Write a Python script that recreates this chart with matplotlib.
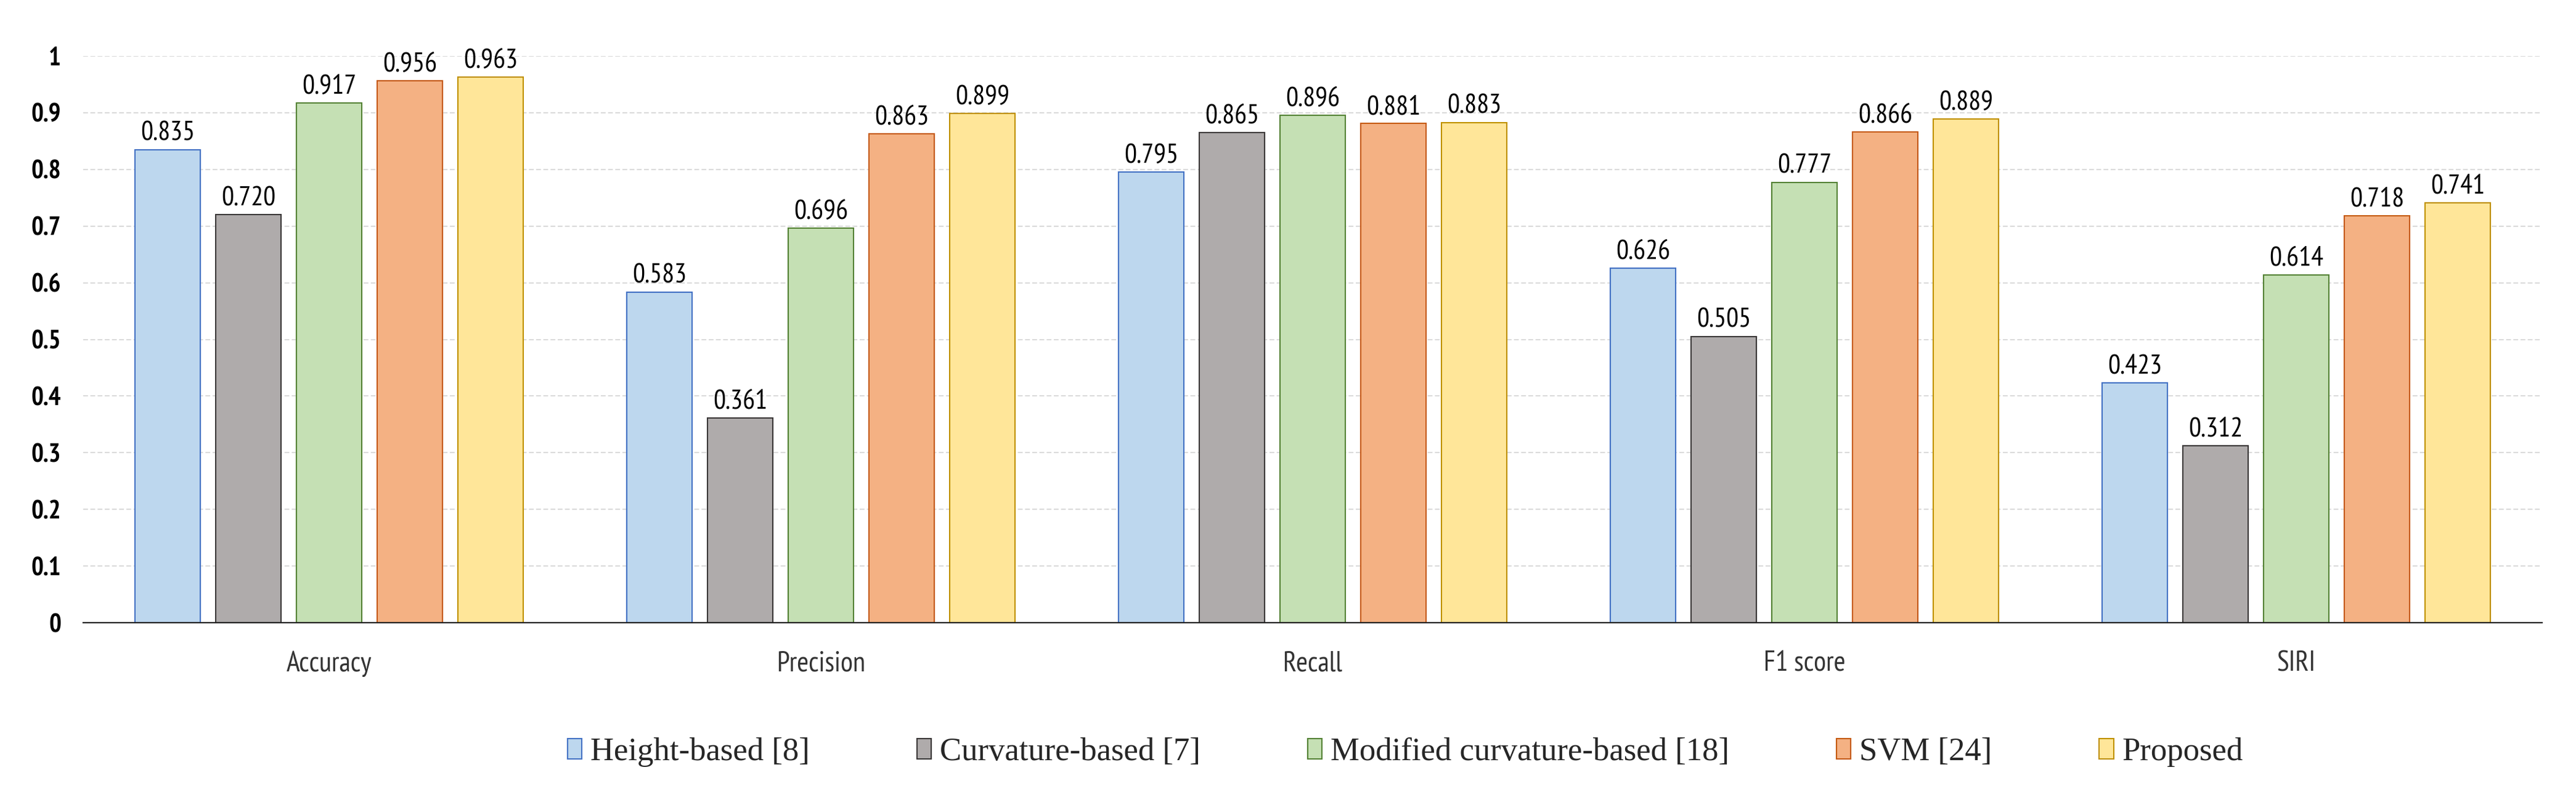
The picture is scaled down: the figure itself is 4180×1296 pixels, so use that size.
import numpy as np
import matplotlib
matplotlib.use("Agg")
import matplotlib.pyplot as plt

categories = ["Accuracy", "Precision", "Recall", "F1 score", "SIRI"]
method_names = ["Height-based [8]", "Curvature-based [7]", "Modified curvature-based [18]",
                "SVM [24]", "Proposed"]

height_based = [0.835, 0.583, 0.795, 0.626, 0.423]
curvature_based = [0.720, 0.361, 0.865, 0.505, 0.312]
modified_curv = [0.917, 0.696, 0.896, 0.777, 0.614]
svm = [0.956, 0.863, 0.881, 0.866, 0.718]
proposed = [0.963, 0.899, 0.883, 0.889, 0.741]

y_ticks = [0, 0.1, 0.2, 0.3, 0.4, 0.5, 0.6, 0.7, 0.8, 0.9, 1]
y_tick_labels = ["0", "0.1", "0.2", "0.3", "0.4", "0.5", "0.6", "0.7", "0.8", "0.9", "1"]

series = [height_based, curvature_based, modified_curv, svm, proposed]
fill_colors = ["#BDD7EE", "#AFABAB", "#C5E0B4", "#F4B183", "#FFE699"]
edge_colors = ["#4472C4", "#3B3838", "#548235", "#C55A11", "#BF9000"]

# narrow sans stands in for the squeezed calibri of the original
sans = ["PT Sans Narrow", "Carlito", "DejaVu Sans"]
serif = ["Liberation Serif", "DejaVu Serif"]

fig = plt.figure(figsize=(41.8, 12.96), dpi=100)
ax = fig.add_axes([135/4180, 1 - 1010/1296, (4125-135)/4180, (1010-91)/1296])

x = np.arange(len(categories))
pitch = 0.1641
width = 0.1328

for i in range(len(series)):
    pos = x + (i - 2) * pitch
    ax.bar(pos, series[i], width, color=fill_colors[i], edgecolor=edge_colors[i],
           linewidth=1.5, label=method_names[i], zorder=3)
    for xp, v in zip(pos, series[i]):
        ax.annotate("%.3f" % v, (xp, v), xytext=(0, 11), textcoords="offset points",
                    ha="center", va="baseline", fontsize=32, family=sans,
                    color="black", annotation_clip=False)

ax.set_xlim(-0.5, 4.5)
ax.set_ylim(0, 1)
ax.set_yticks(y_ticks)
ax.set_yticklabels(y_tick_labels, fontsize=30, fontweight="bold", family=sans)
ax.set_xticks(x)
ax.set_xticklabels(categories, fontsize=33, family=sans, color="#333333")
ax.tick_params(axis="y", length=0, pad=26)
ax.tick_params(axis="x", length=0, pad=33)

ax.grid(axis="y", color="#D9D9D9", linestyle=(0, (4, 2)), linewidth=1.4, zorder=0)
for s in ["top", "right", "left"]:
    ax.spines[s].set_visible(False)
ax.spines["bottom"].set_color("#222222")
ax.spines["bottom"].set_linewidth(1.6)
ax.spines["bottom"].set_zorder(4)

leg = fig.legend(loc="center", bbox_to_anchor=(2280/4180, 1 - 1220/1296), ncol=5,
                 frameon=False, prop={"family": serif, "size": 38},
                 handlelength=0.45, handleheight=0.6, handletextpad=0.25, columnspacing=3.3)
for t in leg.get_texts():
    t.set_color("#262626")

fig.savefig("out.png", dpi=100)
